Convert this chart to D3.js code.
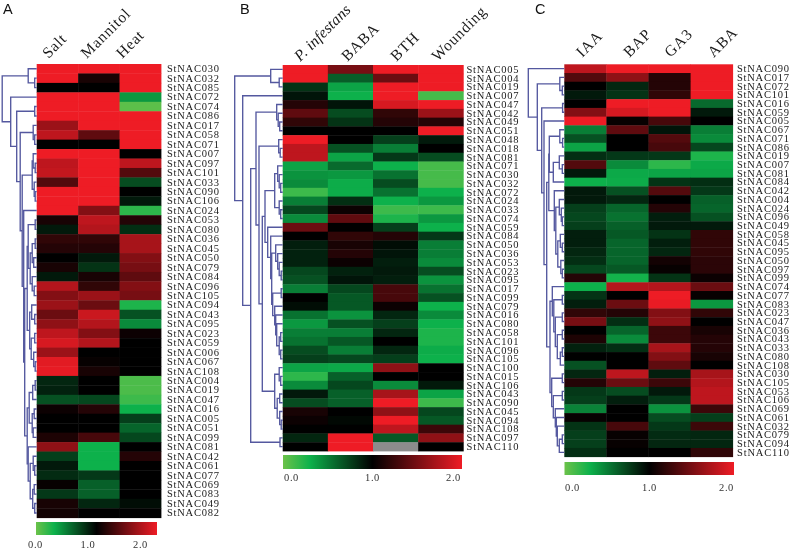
<!DOCTYPE html>
<html><head><meta charset="utf-8">
<style>html,body{margin:0;padding:0;background:#fff}svg{display:block;filter:blur(.35px)}
.rl{font:10.5px "Liberation Serif",serif;fill:#1a1a1a}
.cl{font:15.5px "Liberation Serif",serif;fill:#1a1a1a;letter-spacing:.8px}
.pl{font:14.5px "Liberation Sans",sans-serif;fill:#111}
.tk text{font:10.5px "Liberation Serif",serif;fill:#333;letter-spacing:.6px}
</style>
<script src="https://cdn.jsdelivr.net/npm/d3@7"></script></head><body>
<svg id="c" width="789" height="551"></svg>
<script>
const L = 0;
const rowsA = ["030","032","085","072","074","086","017","058","071","007","097","101","033","090","106","024","053","080","036","045","050","079","084","096","105","094","043","095","023","059","006","067","108","004","019","047","016","005","051","099","081","042","061","077","069","083","049","082"];
const colsA = ["Salt","Mannitol","Heat"];
const valuesA = [[2,2,2],[2,1.1,2],[1,1,2],[2,2,.4],[2,2,.05],[2,2,2],[1.65,2,2],[1.8,1.4,2],[1,1,2],[2,2,1],[1.8,2,1.8],[1.82,2,1.35],[1.35,2,.7],[2,2,1],[2,2,.9],[2,1.55,.2],[1.1,1.8,1.15],[.9,1.75,.82],[1.2,1.2,1.7],[1.15,1.15,1.7],[1,.9,1.55],[1.1,.8,1.5],[.9,1.1,1.4],[1.75,1.2,1.55],[1.55,1.65,1.5],[1.65,1.45,.25],[1.45,1.85,.68],[1.6,1.75,.45],[1.8,1.55,1.05],[1.9,1.75,1],[1.65,1,1],[1.95,1.03,1],[1.97,1.1,1],[.85,1,.1],[.87,1,.1],[.68,.72,.15],[1.05,1.15,.3],[1,1,.75],[1,1,.6],[1.12,1.3,.72],[1.6,.3,1],[.75,.3,1.15],[.9,.3,1],[.83,.78,1],[1.03,.62,1],[.78,.62,1],[1.1,.85,.95],[1.08,1,1]];
const treeA = [34.5,[8.5,L,[2,L,L]],[26,L,[20,[2,L,L],[16.5,[3.5,L,[2,L,L]],[14.5,[4.5,[3.5,L,[1.5,L,L]],[2.5,L,[1.5,L,L]]],[13,L,[12,[9.5,[8.5,[1.5,L,L],[6.5,[4.5,[1.5,L,L],[3,L,L]],[4.5,L,[2.5,L,L]]]],[7,[5,L,[2,L,L]],[5.5,[2,L,L],[3,L,[1.5,L,L]]]]],[9.5,[7.5,[4,[1.5,L,L],L],[4.5,[2.5,L,L],[3.5,L,L]]],[8.5,L,[6.5,[3.5,L,[2,L,L]],[4,[2.5,L,L],[2,L,L]]]]]]]]]]]];

const rowsB = ["005","004","019","007","047","042","049","051","048","018","081","071","030","032","072","024","033","074","059","084","050","036","053","023","095","017","099","079","016","080","058","101","096","105","100","015","106","043","090","045","094","108","097","110"];
const colsB = ["P. infestans","BABA","BTH","Wounding"];
const valuesB = [[2,1.5,2,2],[2,.63,1.45,2],[.8,.35,2,2],[.92,.3,2,.12],[1.15,.92,1.9,2],[1.4,.7,1.2,1.65],[1.2,.8,1.15,1.15],[1,1,1,2],[2,1,.75,.9],[1.8,.68,.5,1],[1.8,.35,.78,.7],[.35,.58,.3,.12],[.42,.4,.55,.12],[.45,.32,.7,.12],[.15,.32,.55,.3],[.5,.82,.3,.4],[.72,1.05,.15,.15],[.45,1.4,.25,.4],[1.45,1,.75,.3],[1,1.2,1.15,.78],[.88,1.1,.95,.5],[.87,1.15,.92,.5],[.87,1.05,.88,.45],[.72,.87,.9,.7],[.68,.92,.88,.42],[.5,.72,1.3,.55],[1,.65,1.3,.68],[.95,.65,1.05,.3],[.55,.42,.85,.45],[.4,.68,.75,.3],[.5,.5,.85,.25],[.55,.65,1,.25],[.7,.5,.85,.32],[.75,.72,.75,.3],[.35,.33,1.6,1],[.2,.62,1,1],[.45,.72,.45,.9],[.9,.62,1.7,.35],[.7,.62,2,.15],[1.1,1,1.6,.72],[1.05,.97,2,.65],[1,1,1.8,1.25],[.85,2,.65,1.6],[1,2,null,1]];
const treeB = [48,[12,L,[3.5,L,L]],[40,L,[32,[26.7,[6,L,[4.5,L,[3,L,L]]],[23.7,[4,L,[2.5,L,L]],[20.4,[17.7,[8,[5,L,[3.5,L,[2,L,L]]],[3.5,L,[2,L,L]]],[15,L,[12,L,[11,[7,L,[5,L,[3.5,L,[1.5,L,L]]]],[10,[1.5,L,L],[8,L,[7,L,[6,L,[3.5,[2,L,L],[2,L,L]]]]]]]]]],[8,[3.5,L,[2,L,L]],[5.5,[3,L,L],[3,L,[1.5,L,L]]]]]]],[2.7,L,L]]]];

const rowsC = ["090","017","072","101","016","059","005","067","071","086","019","007","081","084","042","004","024","096","049","058","045","095","050","097","099","074","077","083","023","047","036","043","033","080","108","030","105","053","106","069","061","032","079","094","110"];
const colsC = ["IAA","BAP","GA3","ABA"];
const valuesC = [[1.8,2,2,2],[1.35,1.6,1.15,2],[1,.85,1.15,2],[.9,.8,1.2,2],[1,2,2,.58],[1.55,1.9,2,.9],[2,1.03,1.3,1],[.5,1.4,.92,.5],[.68,1,1.35,.45],[.35,1,1.3,.72],[.82,.78,.78,.25],[1.35,.45,.2,.33],[.9,.33,.35,.35],[.3,.32,.8,.82],[.9,.68,1.35,.78],[.9,.85,1,.62],[.75,.6,1.15,.6],[.72,.55,.88,.68],[.75,.62,.9,.9],[.88,.65,.8,1.2],[.88,.6,.88,1.2],[.85,.6,.85,1.2],[.82,.6,1.08,1.18],[.72,.65,1.03,1.18],[1.15,.28,.8,1.05],[.3,1.75,1.75,1.45],[.8,1,2,1.03],[.88,1.45,1.98,.4],[1.2,1.15,1.55,1.2],[1.5,.82,1.6,1],[1,.6,1.25,1.1],[1.12,.45,1.25,1.15],[.87,.82,1.7,1.15],[1,1,1.55,1.1],[.68,1,1.4,1],[.85,1.8,.88,1.7],[1.15,1.45,1.25,1.75],[.78,.7,.9,1.8],[.75,.88,.78,1.8],[.48,1,.42,1.25],[1.03,1,.7,.75],[.8,1.3,.78,1.25],[.75,1.03,.83,.85],[.75,1.03,.85,.85],[.82,1,1,1.2]];
const treeC = [36,L,[27,[4.5,L,[2,L,L]],[22.6,[1.7,L,L],[20.3,L,[17.6,[15.5,[15,[4.5,L,[1.7,L,L]],[11,[5,L,[2,L,L]],L]],[10,L,[8.5,[5,L,[3,L,[2,L,L]]],[6.5,[4,L,[2,L,L]],[3.5,L,[2,L,L]]]]]],[14.3,[12,L,[10.5,[2,L,L],[9,[2,L,L],[7,[2,L,L],[4,[2,L,L],L]]]]],[12.6,[2,L,L],[11,[2,L,L],[9,L,[8,L,[7,L,[5,[2,L,L],L]]]]]]]]]]]];

const legendTicks = [0,1,2];
const color = d3.scaleLinear().domain([0,.3,1,2]).range(["#6cc24a","#0db14b","#000000","#ee1c25"]).clamp(true);
const svg = d3.select("#c");

const defs = svg.append("defs");
const grad = defs.append("linearGradient").attr("id","lg");
d3.range(0,2.01,.1).forEach(v=>grad.append("stop").attr("offset",(v/2*100)+"%").attr("stop-color",color(v)));

const panels = [
 {name:"A",rows:rowsA,cols:colsA,vals:valuesA,tree:treeA,box:[36.7,161,64,517.7],lx:167,letter:[3,14],colOff:[-9,-12,-18],colY:59,
  bar:[36,157,522,535],barT:[35,140],barY:538},
 {name:"B",rows:rowsB,cols:colsB,vals:valuesB,tree:treeB,box:[282.7,463.3,65,451],lx:466.5,letter:[240,14],colOff:[-5,-3,1,-3],colY:62,
  bar:[283,462,455,469],barT:[291,453],barY:470.5},
 {name:"C",rows:rowsC,cols:colsC,vals:valuesC,tree:treeC,box:[564.3,732.7,64.3,456.7],lx:737,letter:[535,14],colOff:[-3,2,1,2],colY:58,
  bar:[564.5,734,462,475],barT:[572,726],barY:480.5}
];

panels.forEach(p=>{
  const [x0,x1,y0,y1]=p.box;
  const g = svg.append("g");
  const x = d3.scaleBand().domain(p.cols).range([x0,x1]);
  const y = d3.scaleBand().domain(p.rows).range([y0,y1]);
  p.rows.forEach((r,i)=>p.cols.forEach((c,j)=>{
    const v=p.vals[i][j];
    g.append("rect").attr("x",x(c)).attr("y",y(r)).attr("width",x.bandwidth()+.4).attr("height",y.bandwidth()+.4)
     .attr("fill",v===null?"#8c8c8c":color(v));
  }));
  g.selectAll(".rl").data(p.rows).join("text").attr("class","rl").attr("x",p.lx)
   .attr("y",d=>y(d)+y.bandwidth()/2+3.4).attr("textLength",52).attr("lengthAdjust","spacing").text(d=>"StNAC"+d);
  p.cols.forEach((c,j)=>{
    const it=c.startsWith("P.");
    g.append("text").attr("class","cl").style("font-style",it?"italic":null).style("letter-spacing",it?"0.2px":null)
     .attr("transform",`translate(${x(c)+x.bandwidth()/2+p.colOff[j]},${p.colY}) rotate(-45)`).text(c);
  });
  g.append("text").attr("class","pl").attr("x",p.letter[0]).attr("y",p.letter[1]).text(p.name);
  const root = d3.hierarchy(p.tree,d=>Array.isArray(d)?d.slice(1):null);
  let k=0;
  root.eachAfter(n=>{
    if(!n.children){n.yy=y(p.rows[k++])+y.bandwidth()/2;n.dist=0;}
    else{n.yy=(n.children[0].yy+n.children[n.children.length-1].yy)/2;n.dist=n.data[0];}
  });
  const dx=d3.scaleLinear().domain([0,root.dist]).range([x0,x0-root.dist]);
  const line=d3.line();
  const tg=g.append("g").attr("fill","none").attr("stroke","#54589f").attr("stroke-width",1.35);
  root.descendants().filter(n=>n.children).forEach(n=>{
    const a=n.children[0],b=n.children[n.children.length-1];
    tg.append("path").attr("d",line([[dx(a.dist),a.yy],[dx(n.dist),a.yy],[dx(n.dist),b.yy],[dx(b.dist),b.yy]]));
  });
  const [bx0,bx1,by0,by1]=p.bar;
  g.append("rect").attr("x",bx0).attr("y",by0).attr("width",bx1-bx0).attr("height",by1-by0).attr("fill","url(#lg)");
  const ts=d3.scaleLinear().domain([0,2]).range(p.barT);
  const ax=d3.axisBottom(ts).tickValues(legendTicks).tickSize(0).tickFormat(d3.format(".1f"));
  const ag=g.append("g").attr("class","tk").attr("transform",`translate(0,${p.barY})`).call(ax);
  ag.select(".domain").remove();
});
</script></body></html>
